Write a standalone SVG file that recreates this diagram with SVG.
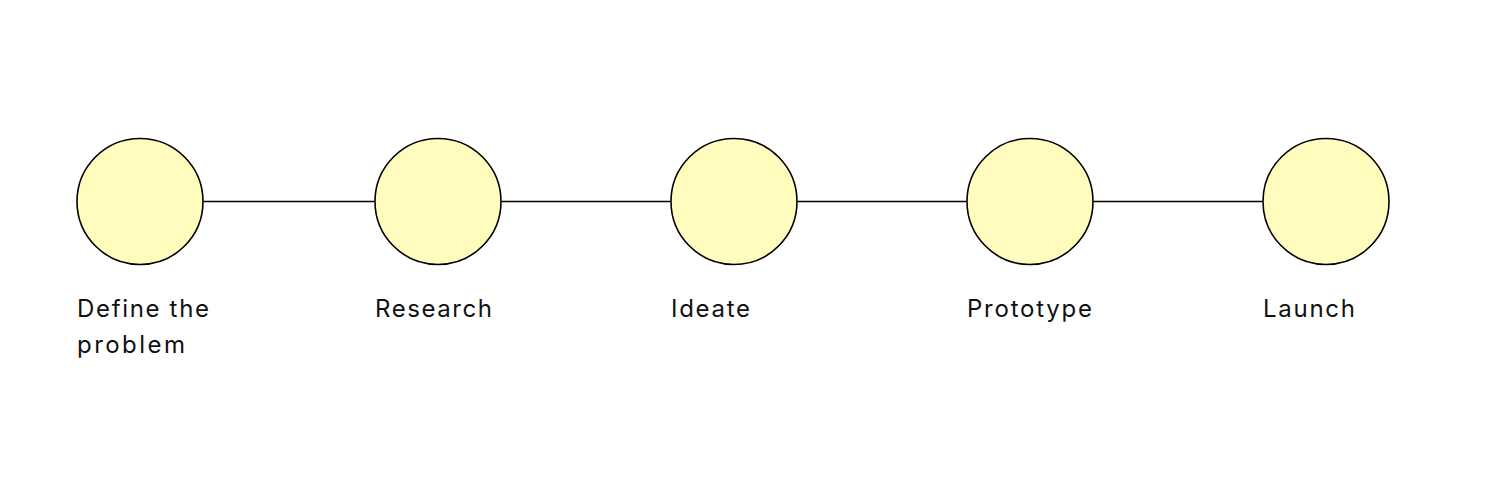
<svg xmlns="http://www.w3.org/2000/svg" width="1488" height="498" viewBox="0 0 1488 498">
<style>
.node{fill:#FFFCBD;stroke:#000;stroke-width:1.6}
.edge{stroke:#000;stroke-width:1.6;fill:none}
.lbl{font-family:"Inter","Noto Sans",sans-serif;font-size:24px;fill:#111}
</style>
<rect width="1488" height="498" fill="#fff"/>
<g id="connectors">
<line class="edge" x1="203.5" y1="201.5" x2="374.5" y2="201.5"/>
<line class="edge" x1="501.5" y1="201.5" x2="670.5" y2="201.5"/>
<line class="edge" x1="797.5" y1="201.5" x2="966.5" y2="201.5"/>
<line class="edge" x1="1093.5" y1="201.5" x2="1262.5" y2="201.5"/>
</g>
<g id="n1"><circle class="node" cx="140" cy="201.5" r="63"/><text class="lbl" x="77" y="317" textLength="132" lengthAdjust="spacing">Define the</text><text class="lbl" x="77" y="353" textLength="108" lengthAdjust="spacing">problem</text></g>
<g id="n2"><circle class="node" cx="438" cy="201.5" r="63"/><text class="lbl" x="375" y="317" textLength="117" lengthAdjust="spacing">Research</text></g>
<g id="n3"><circle class="node" cx="734" cy="201.5" r="63"/><text class="lbl" x="671" y="317" textLength="79" lengthAdjust="spacing">Ideate</text></g>
<g id="n4"><circle class="node" cx="1030" cy="201.5" r="63"/><text class="lbl" x="967" y="317" textLength="125" lengthAdjust="spacing">Prototype</text></g>
<g id="n5"><circle class="node" cx="1326" cy="201.5" r="63"/><text class="lbl" x="1263" y="317" textLength="92" lengthAdjust="spacing">Launch</text></g>
</svg>
